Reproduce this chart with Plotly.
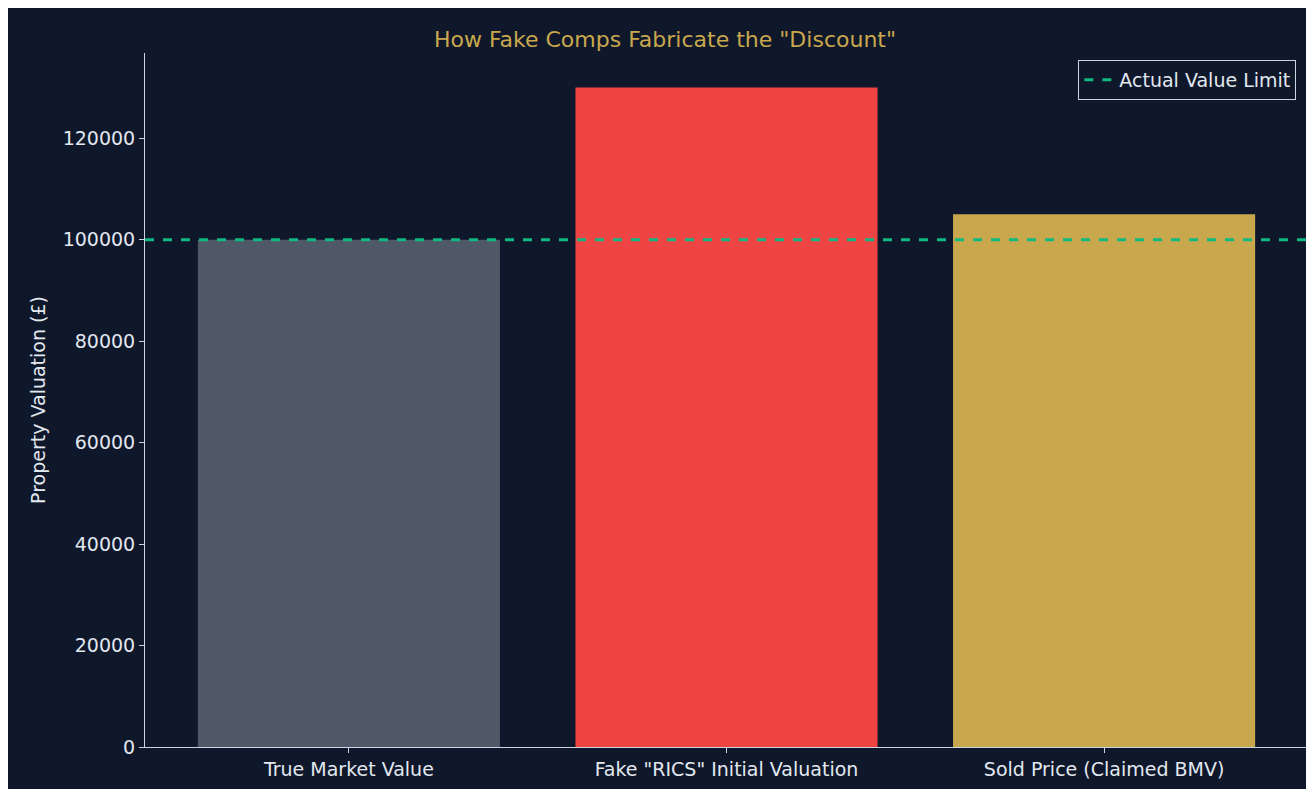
import plotly.graph_objects as go

categories = ["True Market Value", "Fake \"RICS\" Initial Valuation", "Sold Price (Claimed BMV)"]
values = [100000, 130000, 105000]
bar_colors = ["#4f5866", "#ef4444", "#c9a74d"]
limit_value = 100000
limit_name = "Actual Value Limit"

fig = go.Figure()
fig.add_trace(go.Bar(x=[0, 1, 2], y=values, marker=dict(color=bar_colors, line=dict(width=0)),
                     width=0.8, showlegend=False))
fig.add_trace(go.Scatter(x=[-0.54, 2.54], y=[limit_value, limit_value], mode="lines",
                         line=dict(color="#10b981", width=3, dash="dash"), name=limit_name,
                         showlegend=True))
fig.update_layout(
    width=1314, height=789,
    paper_bgcolor="#0f172a", plot_bgcolor="#0f172a",
    font=dict(family="DejaVu Sans", color="#e2e8f0", size=19),
    title=dict(text='How Fake Comps Fabricate the "Discount"', x=0.5, xanchor="center", y=0.97,
               font=dict(color="#c9a74d", size=22)),
    margin=dict(l=137, r=14, t=45, b=50),
    legend=dict(x=0.99, y=0.99, xanchor="right", yanchor="top", bgcolor="#0f172a",
                bordercolor="#cbd5e1", borderwidth=1, font=dict(size=19)),
    xaxis=dict(range=[-0.54, 2.54], tickvals=[0, 1, 2], ticktext=categories, showgrid=False,
               zeroline=False, showline=True, linecolor="#cbd5e1", ticks="outside",
               tickcolor="#cbd5e1", ticklen=5, tickfont=dict(size=19)),
    yaxis=dict(range=[0, 136800], dtick=20000, tickformat="d", showgrid=False, zeroline=False,
               showline=True, linecolor="#cbd5e1", ticks="outside", tickcolor="#cbd5e1",
               ticklen=5, tickfont=dict(size=19),
               title=dict(text="Property Valuation (£)", standoff=12, font=dict(size=19))),
)
fig.write_html("out.html")
